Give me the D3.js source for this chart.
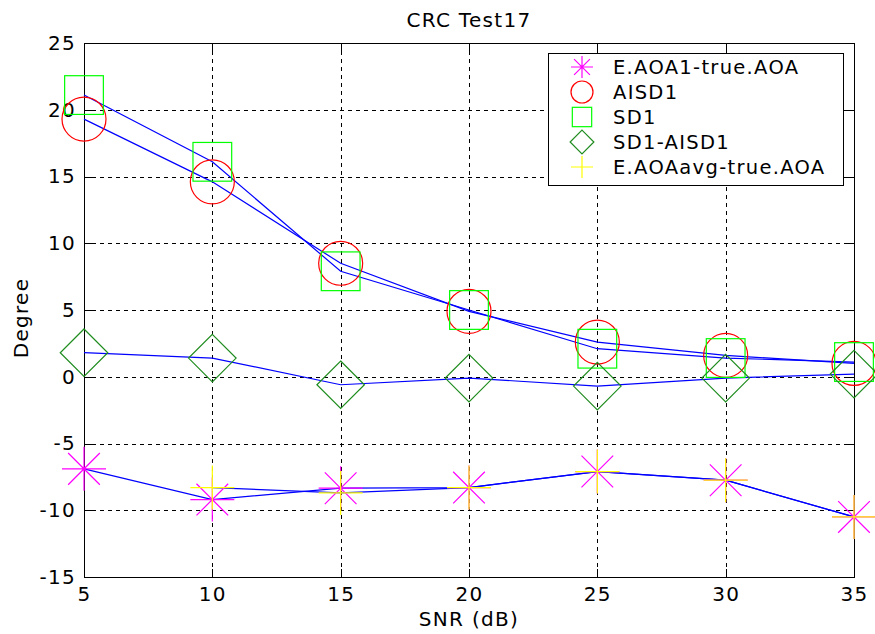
<!DOCTYPE html>
<html>
<head>
<meta charset="utf-8">
<script src="https://cdn.jsdelivr.net/npm/d3@7"></script>
<style>
  body { margin: 0; background: #fff; }
  text { font-family: "DejaVu Sans", sans-serif; fill: #000; letter-spacing: 1.3px; }
</style>
</head>
<body>
<div id="chart"></div>
<script>
// data
const snr = [5, 10, 15, 20, 25, 30, 35];
const aoa1Err = [-6.9, -9.2, -8.35, -8.3, -7.1, -7.75, -10.5];
const aisd1 = [19.3, 14.6, 8.5, 4.9, 2.6, 1.6, 1.0];
const sd1 = [21.1, 16.1, 7.9, 5.0, 2.1, 1.4, 1.1];
const sdDiff = [1.8, 1.4, -0.6, -0.1, -0.7, -0.1, 0.2];
const aoaAvgErr = [null, -8.3, -8.7, -8.3, -7.1, -7.75, -10.5];
const xTicks = [5, 10, 15, 20, 25, 30, 35];
const yTicks = [-15, -10, -5, 0, 5, 10, 15, 20, 25];

const series = [
  {name: "E.AOA1-true.AOA", values: aoa1Err, marker: "star", color: "#ff00ff"},
  {name: "AISD1", values: aisd1, marker: "circle", color: "#ff0000"},
  {name: "SD1", values: sd1, marker: "square", color: "#00ff00"},
  {name: "SD1-AISD1", values: sdDiff, marker: "diamond", color: "#1e8c1e"},
  {name: "E.AOAavg-true.AOA", values: aoaAvgErr, marker: "plus", color: "#ffff00"}
];

const width = 875, height = 634;
const mLeft = 84, mRight = 854, mTop = 43, mBottom = 577;

const x = d3.scaleLinear().domain([5, 35]).range([mLeft, mRight]);
const y = d3.scaleLinear().domain([-15, 25]).range([mBottom, mTop]);

const svg = d3.select("#chart").append("svg")
    .attr("width", width)
    .attr("height", height);

// grid
const grid = svg.append("g")
    .attr("stroke", "#000")
    .attr("stroke-width", 1)
    .attr("stroke-dasharray", "4,4")
    .attr("shape-rendering", "crispEdges");
grid.selectAll(".gx")
  .data(xTicks.slice(1, -1))
  .join("line")
    .attr("class", "gx")
    .attr("x1", d => Math.round(x(d)) + 0.5).attr("x2", d => Math.round(x(d)) + 0.5)
    .attr("y1", mTop).attr("y2", mBottom);
grid.selectAll(".gy")
  .data(yTicks.slice(1, -1))
  .join("line")
    .attr("class", "gy")
    .attr("y1", d => Math.round(y(d)) + 0.5).attr("y2", d => Math.round(y(d)) + 0.5)
    .attr("x1", mLeft).attr("x2", mRight);

// axes with inner ticks, plain hyphen for negatives
const fmt = d => String(d);
const xAxisB = d3.axisBottom(x).tickValues(xTicks).tickSizeInner(-8).tickSizeOuter(0).tickPadding(10).tickFormat(fmt);
const xAxisT = d3.axisTop(x).tickValues(xTicks).tickSizeInner(-8).tickSizeOuter(0).tickFormat("");
const yAxisL = d3.axisLeft(y).tickValues(yTicks).tickSizeInner(-8).tickSizeOuter(0).tickPadding(8).tickFormat(fmt);
const yAxisR = d3.axisRight(y).tickValues(yTicks).tickSizeInner(-8).tickSizeOuter(0).tickFormat("");

function styleAxis(g) {
  g.selectAll("path, line").attr("stroke", "#000").attr("shape-rendering", "crispEdges");
  g.selectAll("text").attr("font-size", 20).attr("font-family", "DejaVu Sans, sans-serif").attr("fill", "#000");
}

svg.append("g").attr("transform", `translate(0,${mBottom})`).call(xAxisB).call(styleAxis);
svg.append("g").attr("transform", `translate(0,${mTop})`).call(xAxisT).call(styleAxis);
svg.append("g").attr("transform", `translate(${mLeft},0)`).call(yAxisL).call(styleAxis);
svg.append("g").attr("transform", `translate(${mRight},0)`).call(yAxisR).call(styleAxis);

// blue lines
const line = d3.line()
    .defined(d => d.v !== null)
    .x(d => x(d.x))
    .y(d => y(d.v));

svg.append("g")
    .attr("fill", "none")
    .attr("stroke", "#0000ff")
    .attr("stroke-width", 1.2)
  .selectAll("path")
  .data(series)
  .join("path")
    .attr("d", s => line(s.values.map((v, i) => ({x: snr[i], v: v}))));

// markers
function drawMarker(g, type, color, size) {
  const h = size / 2;
  g.attr("fill", "none").attr("stroke", color).attr("stroke-width", 1.2);
  if (type === "circle") {
    g.append("circle").attr("r", h);
  } else if (type === "square") {
    g.append("rect").attr("x", -h * 0.88).attr("y", -h * 0.88).attr("width", h * 1.76).attr("height", h * 1.76);
  } else if (type === "diamond") {
    g.append("path").attr("d", `M0,${-h * 1.08}L${h * 1.08},0L0,${h * 1.08}L${-h * 1.08},0Z`);
  } else if (type === "plus") {
    g.append("path").attr("d", `M${-h},0H${h}M0,${-h}V${h}`);
  } else if (type === "star") {
    const d = h * 0.72;
    g.append("path").attr("d", `M${-h},0H${h}M0,${-h}V${h}M${-d},${-d}L${d},${d}M${-d},${d}L${d},${-d}`);
  }
}

series.forEach(s => {
  svg.append("g")
    .selectAll("g")
    .data(s.values.map((v, i) => ({x: snr[i], v: v})).filter(d => d.v !== null))
    .join("g")
      .attr("transform", d => `translate(${x(d.x)},${y(d.v)})`)
      .each(function() { drawMarker(d3.select(this), s.marker, s.color, 44); });
});

// title and labels
svg.append("text")
    .attr("x", (mLeft + mRight) / 2)
    .attr("y", 27)
    .attr("text-anchor", "middle")
    .attr("font-size", 20)
    .text("CRC Test17");

svg.append("text")
    .attr("x", (mLeft + mRight) / 2)
    .attr("y", 626)
    .attr("text-anchor", "middle")
    .attr("font-size", 20)
    .text("SNR (dB)");

svg.append("text")
    .attr("transform", `translate(28,${(mTop + mBottom) / 2 + 8}) rotate(-90)`)
    .attr("text-anchor", "middle")
    .attr("font-size", 20)
    .text("Degree");

// legend
const lg = svg.append("g");
lg.append("rect")
    .attr("x", 548.5).attr("y", 53.5)
    .attr("width", 295).attr("height", 132)
    .attr("fill", "#fff")
    .attr("stroke", "#000");

const rows = lg.selectAll(".row")
  .data(series)
  .join("g")
    .attr("transform", (d, i) => `translate(582,${67 + i * 25})`);

rows.append("g").each(function(d) { drawMarker(d3.select(this), d.marker, d.color, 22); });
rows.append("text")
    .attr("x", 31)
    .attr("dy", "0.36em")
    .attr("font-size", 19.5)
    .text(d => d.name);
</script>
</body>
</html>
